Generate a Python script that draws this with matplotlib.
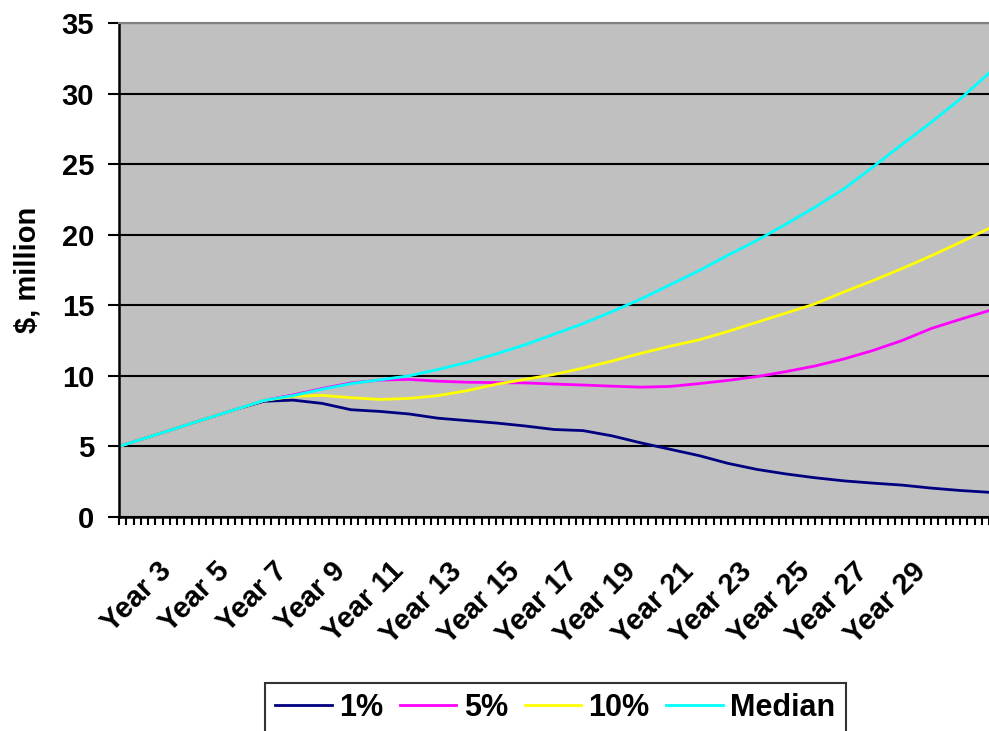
import matplotlib
matplotlib.use("Agg")
import matplotlib.pyplot as plt

plt.rcParams['font.family'] = ['Liberation Sans', 'DejaVu Sans']
plt.rcParams['font.weight'] = 'bold'

# quarter index of each reading (one reading per year)
quarter = list(range(0, 121, 4))

pct1 = [5.0, 5.65, 6.30, 6.96, 7.61, 8.20, 8.28, 8.05, 7.60, 7.48, 7.30,
        7.00, 6.83, 6.66, 6.45, 6.20, 6.12, 5.75, 5.25, 4.80, 4.35, 3.80,
        3.37, 3.05, 2.78, 2.56, 2.40, 2.26, 2.05, 1.88, 1.75]
pct5 = [5.0, 5.65, 6.30, 6.96, 7.61, 8.26, 8.65, 9.10, 9.50, 9.70, 9.75,
        9.62, 9.55, 9.52, 9.50, 9.42, 9.35, 9.27, 9.20, 9.25, 9.45, 9.68,
        9.95, 10.30, 10.70, 11.20, 11.80, 12.50, 13.35, 14.00, 14.62]
pct10 = [5.0, 5.65, 6.30, 6.96, 7.61, 8.26, 8.55, 8.62, 8.45, 8.33, 8.40,
         8.60, 8.95, 9.40, 9.75, 10.10, 10.55, 11.05, 11.60, 12.10, 12.55,
         13.15, 13.80, 14.45, 15.10, 15.95, 16.75, 17.60, 18.50, 19.45, 20.45]
median = [5.0, 5.65, 6.30, 6.96, 7.61, 8.26, 8.60, 9.05, 9.45, 9.72, 10.00,
          10.45, 10.95, 11.55, 12.20, 12.95, 13.70, 14.55, 15.45, 16.45,
          17.45, 18.55, 19.60, 20.75, 21.95, 23.25, 24.80, 26.40, 27.95,
          29.60, 31.45]

label_pos = list(range(8, 113, 8))
label_txt = ["Year %d" % y for y in range(3, 30, 2)]

FS = 21

fig = plt.figure(figsize=(9.89, 7.31), dpi=100)
ax = fig.add_axes([119 / 989, 1 - 517 / 731, 870 / 989, 494 / 731])
ax.set_facecolor('#C0C0C0')

ax.plot(quarter, pct1, color='#000080', lw=2.0, label='1%')
ax.plot(quarter, pct5, color='#FF00FF', lw=2.0, label='5%')
ax.plot(quarter, pct10, color='#FFFF00', lw=2.0, label='10%')
ax.plot(quarter, median, color='#00FFFF', lw=2.0, label='Median')

ax.set_xlim(0, 120)
ax.set_ylim(0, 35)
ax.set_yticks(range(0, 36, 5))
ax.grid(axis='y', color='black', lw=1.5)
ax.set_axisbelow(True)

ax.set_xticks(range(0, 121), minor=True)
ax.set_xticks(label_pos)
ax.set_xticklabels(label_txt, rotation=45, ha='right', va='bottom',
                   rotation_mode='anchor')
ax.tick_params(axis='x', which='both', length=6, width=1.5, direction='out',
               labelsize=FS, pad=37)
ax.tick_params(axis='y', length=8, width=1.5, labelsize=FS, pad=10)

for s in ['left', 'bottom']:
    ax.spines[s].set_linewidth(1.8)
    ax.spines[s].set_color('black')
ax.spines['top'].set_color('#808080')
ax.spines['top'].set_linewidth(1.5)
ax.spines['right'].set_visible(False)

fig.text(27 / 989, 1 - 270 / 731, '$, million', rotation=90, ha='center',
         va='center', fontsize=FS, fontweight='bold')

leg = fig.legend(loc='upper left', bbox_to_anchor=(265 / 989, 1 - 683 / 731),
                 ncol=4, fontsize=22, frameon=True, fancybox=False,
                 handlelength=1.85, columnspacing=0.55, handletextpad=0.24,
                 borderpad=0.33, borderaxespad=0)
leg.get_frame().set_edgecolor('black')
leg.get_frame().set_linewidth(1.5)

fig.savefig('out.png', dpi=100)
